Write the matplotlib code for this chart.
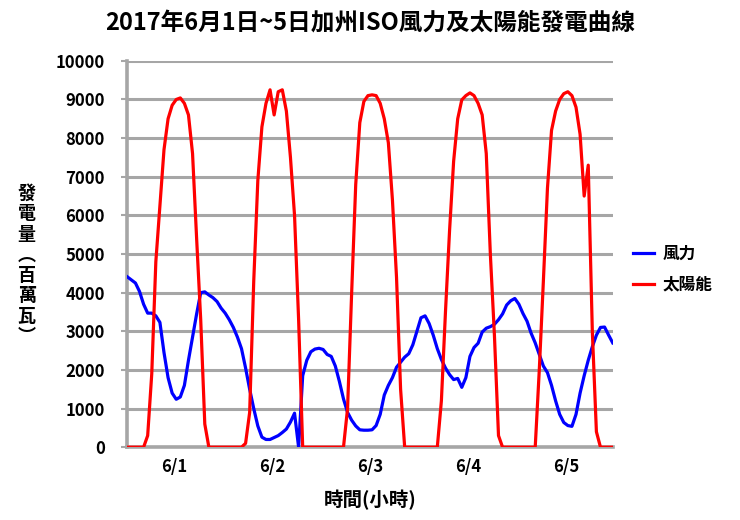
import numpy as np
import matplotlib
matplotlib.use("Agg")
import matplotlib.pyplot as plt

plt.rcParams['font.family'] = ['Noto Sans CJK TC', 'DejaVu Sans']

# hourly values, 6/1 00:00 .. 6/5 23:00 (MW)
wind = [4410, 4330, 4250, 4030, 3700, 3470, 3470, 3400, 3230, 2450, 1800, 1400,
        1240, 1300, 1600, 2250, 2850, 3450, 4000, 4020, 3940, 3870, 3770, 3600,
        3470, 3300, 3100, 2850, 2550, 2050, 1500, 1000, 550, 260, 200, 200,
        250, 300, 380, 470, 650, 880, 0, 1850, 2250, 2470, 2540, 2560,
        2530, 2400, 2350, 2100, 1700, 1250, 900, 700, 550, 450, 440, 440,
        450, 560, 850, 1350, 1600, 1800, 2070, 2200, 2330, 2420, 2650, 3000,
        3350, 3400, 3200, 2900, 2550, 2270, 2050, 1880, 1750, 1780, 1550, 1800,
        2350, 2580, 2690, 2980, 3080, 3120, 3180, 3300, 3450, 3680, 3790, 3850,
        3700, 3460, 3260, 2950, 2700, 2400, 2100, 1930, 1600, 1200, 850, 640,
        560, 540, 850, 1400, 1850, 2250, 2600, 2900, 3100, 3110, 2900, 2700]

solar_d1 = [0, 0, 0, 0, 0, 300, 1900, 4800, 6250, 7700, 8500, 8850,
            9000, 9040, 8900, 8600, 7600, 5400, 3300, 600, 0, 0, 0, 0]
solar_d2 = [0, 0, 0, 0, 0, 100, 900, 4300, 6900, 8290, 8900, 9250,
            8600, 9200, 9250, 8700, 7500, 6000, 3300, 0, 0, 0, 0, 0]
solar_d3 = [0, 0, 0, 0, 0, 0, 1000, 3990, 6800, 8400, 8950, 9100,
            9120, 9100, 8900, 8500, 7880, 6400, 4400, 1500, 0, 0, 0, 0]
solar_d4 = [0, 0, 0, 0, 0, 1200, 3500, 5600, 7400, 8500, 8990, 9100,
            9170, 9100, 8900, 8600, 7600, 5000, 2900, 300, 0, 0, 0, 0]
solar_d5 = [0, 0, 0, 0, 0, 2000, 4300, 6700, 8200, 8700, 9000, 9150,
            9200, 9100, 8800, 8100, 6500, 7300, 3000, 400, 0, 0, 0, 0]
solar = solar_d1 + solar_d2 + solar_d3 + solar_d4 + solar_d5

day_labels = ['6/1', '6/2', '6/3', '6/4', '6/5']
hours = np.arange(len(wind))

fig = plt.figure(figsize=(7.4, 5.2), dpi=100)
ax = fig.add_axes([0.172, 0.140, 0.656, 0.743])

grid_c = '#a6a6a6'
ax.plot(hours, wind, color='#0000ff', lw=2.3, label='風力', zorder=3)
ax.plot(hours, solar, color='#ff0000', lw=2.3, label='太陽能', zorder=3)

ax.set_xlim(0, len(wind) - 1)
ax.set_ylim(0, 10000)
ax.set_yticks(np.arange(0, 10001, 1000))
ax.set_xticks([11.5 + 24 * i for i in range(5)])
ax.set_xticklabels(day_labels)

ax.yaxis.grid(True, color=grid_c, lw=2.2)
ax.set_axisbelow(True)
for s in ['top', 'right']:
    ax.spines[s].set_visible(False)
for s in ['left', 'bottom']:
    ax.spines[s].set_color(grid_c)
    ax.spines[s].set_linewidth(2.6)
ax.tick_params(axis='y', length=4, width=1.5, color=grid_c, pad=12)
ax.tick_params(axis='x', length=0, pad=8)
for lab in ax.get_yticklabels() + ax.get_xticklabels():
    lab.set_fontweight('bold')
    lab.set_fontsize(12)

ax.set_title('2017年6月1日~5日加州ISO風力及太陽能發電曲線',
             fontsize=17, fontweight='bold', pad=22)
ax.set_xlabel('時間(小時)', fontsize=14, fontweight='bold', labelpad=10)
fig.text(0.036, 0.49, '發\n電\n量\n︵\n百\n萬\n瓦\n︶', fontsize=13,
         fontweight='bold', ha='center', va='center', linespacing=1.1)

leg = ax.legend(loc='center left', bbox_to_anchor=(1.01, 0.46), frameon=False,
                handlelength=1.3, handletextpad=0.5, labelspacing=0.75,
                prop={'weight': 'bold', 'size': 12})

fig.savefig('out.png', dpi=100)
